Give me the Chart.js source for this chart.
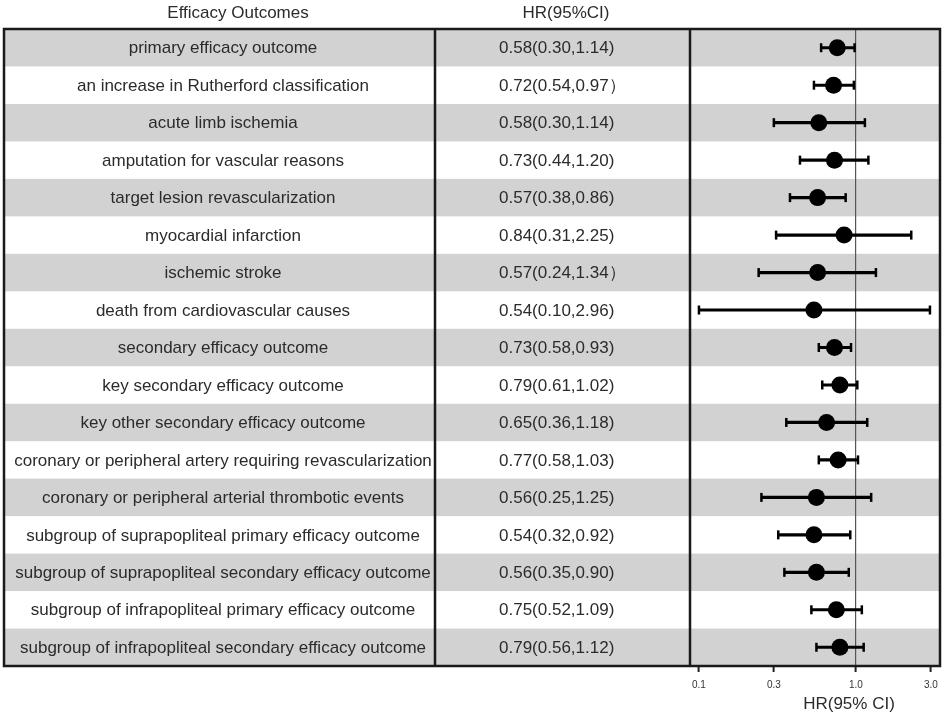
<!DOCTYPE html>
<html>
<head>
<meta charset="utf-8">
<script src="https://cdn.jsdelivr.net/npm/chart.js@4"></script>
<style>
  html, body { margin: 0; padding: 0; background: #fff; }
  canvas { display: block; }
</style>
</head>
<body>
<canvas id="forest" width="945" height="718"></canvas>
<script>
// outcomes and the HR text shown in the middle column
const outcomes = [
  'primary efficacy outcome',
  'an increase in Rutherford classification',
  'acute limb ischemia',
  'amputation for vascular reasons',
  'target lesion revascularization',
  'myocardial infarction',
  'ischemic stroke',
  'death from cardiovascular causes',
  'secondary efficacy outcome',
  'key secondary efficacy outcome',
  'key other secondary efficacy outcome',
  'coronary or peripheral artery requiring revascularization',
  'coronary or peripheral arterial thrombotic events',
  'subgroup of suprapopliteal primary efficacy outcome',
  'subgroup of suprapopliteal secondary efficacy outcome',
  'subgroup of infrapopliteal primary efficacy outcome',
  'subgroup of infrapopliteal secondary efficacy outcome'
];
const hrText = [
  '0.58(0.30,1.14)', '0.72(0.54,0.97\uFF09', '0.58(0.30,1.14)', '0.73(0.44,1.20)',
  '0.57(0.38,0.86)', '0.84(0.31,2.25)', '0.57(0.24,1.34\uFF09', '0.54(0.10,2.96)',
  '0.73(0.58,0.93)', '0.79(0.61,1.02)', '0.65(0.36,1.18)', '0.77(0.58,1.03)',
  '0.56(0.25,1.25)', '0.54(0.32,0.92)', '0.56(0.35,0.90)', '0.75(0.52,1.09)',
  '0.79(0.56,1.12)'
];
// values as plotted (first row is drawn at a different spot than its text)
const hr = [0.76, 0.72, 0.58, 0.73, 0.57, 0.84, 0.57, 0.54, 0.73, 0.79, 0.65, 0.77, 0.56, 0.54, 0.56, 0.75, 0.79];
const lower = [0.60, 0.54, 0.30, 0.44, 0.38, 0.31, 0.24, 0.10, 0.58, 0.61, 0.36, 0.58, 0.25, 0.32, 0.35, 0.52, 0.56];
const upper = [0.98, 0.97, 1.14, 1.20, 0.86, 2.25, 1.34, 2.96, 0.93, 1.02, 1.18, 1.03, 1.25, 0.92, 0.90, 1.09, 1.12];
const tickVals = [0.1, 0.3, 1.0, 3.0];

const FONT = "'Liberation Sans', Arial, sans-serif";
const tableLeft = 4;
const col1 = 435;

const tablePlugin = {
  id: 'table',
  beforeDraw(chart) {
    const ctx = chart.ctx;
    const ys = chart.scales.y;
    const a = chart.chartArea;
    const half = (ys.getPixelForValue(1) - ys.getPixelForValue(0)) / 2;
    ctx.save();
    ctx.fillStyle = '#fff';
    ctx.fillRect(0, 0, chart.width, chart.height);
    ctx.fillStyle = '#d2d2d2';
    outcomes.forEach((o, i) => {
      if (i % 2 === 0) {
        const y = ys.getPixelForValue(i);
        ctx.fillRect(tableLeft, y - half, a.right - tableLeft, half * 2);
      }
    });
    ctx.restore();
  },
  afterDraw(chart) {
    const ctx = chart.ctx;
    const ys = chart.scales.y;
    const a = chart.chartArea;
    ctx.save();
    ctx.fillStyle = '#2b2b2b';
    ctx.textBaseline = 'middle';
    ctx.font = '17px ' + FONT;
    ctx.textAlign = 'center';
    ctx.fillText('Efficacy Outcomes', 238, 13);
    ctx.fillText('HR(95%CI)', 566, 13);
    ctx.fillText('HR(95% CI)', 849, 704);
    outcomes.forEach((o, i) => {
      const y = ys.getPixelForValue(i) + 1;
      ctx.textAlign = 'center';
      ctx.fillText(o, 223, y);
      ctx.textAlign = 'left';
      ctx.fillText(hrText[i], 499, y);
    });
    // table borders
    ctx.strokeStyle = '#1a1a1a';
    ctx.lineWidth = 2.5;
    ctx.strokeRect(tableLeft, a.top, a.right - tableLeft, a.bottom - a.top);
    ctx.beginPath();
    ctx.moveTo(col1, a.top);
    ctx.lineTo(col1, a.bottom);
    ctx.moveTo(a.left, a.top);
    ctx.lineTo(a.left, a.bottom);
    ctx.stroke();
    ctx.restore();
  }
};

const whiskers = outcomes.map((o, i) => [lower[i], upper[i]]);

new Chart(document.getElementById('forest'), {
  type: 'bar',
  data: {
    labels: outcomes,
    datasets: [
      {
        type: 'scatter',
        data: outcomes.map((o, i) => ({ x: hr[i], y: o })),
        pointStyle: 'circle',
        pointRadius: 8.5,
        backgroundColor: '#000',
        borderColor: '#000',
        borderWidth: 0,
        order: 0
      },
      {
        type: 'scatter',
        data: outcomes.map((o, i) => ({ x: lower[i], y: o })),
        pointStyle: 'line',
        rotation: 90,
        pointRadius: 4.5,
        borderColor: '#000',
        borderWidth: 2.5,
        order: 1
      },
      {
        type: 'scatter',
        data: outcomes.map((o, i) => ({ x: upper[i], y: o })),
        pointStyle: 'line',
        rotation: 90,
        pointRadius: 4.5,
        borderColor: '#000',
        borderWidth: 2.5,
        order: 1
      },
      {
        type: 'bar',
        data: whiskers,
        backgroundColor: '#000',
        barThickness: 2.5,
        grouped: false,
        order: 2
      }
    ]
  },
  options: {
    indexAxis: 'y',
    responsive: false,
    animation: false,
    devicePixelRatio: 1,
    layout: { autoPadding: false, padding: { left: 690, right: 5, top: 29, bottom: 20 } },
    plugins: {
      legend: { display: false },
      tooltip: { enabled: false }
    },
    scales: {
      y: {
        type: 'category',
        labels: outcomes,
        offset: true,
        display: false
      },
      x: {
        type: 'logarithmic',
        min: 0.0877,
        max: 3.43,
        border: { display: false },
        afterBuildTicks: (scale) => {
          scale.ticks = tickVals.map(v => ({ value: v }));
        },
        afterFit: (scale) => {
          scale.paddingLeft = 0;
          scale.paddingRight = 0;
        },
        grid: {
          drawOnChartArea: true,
          color: (c) => (c.tick && c.tick.value === 1 ? '#555' : 'rgba(0,0,0,0)'),
          lineWidth: 1.2,
          tickColor: '#222',
          tickWidth: 2,
          tickLength: 6
        },
        ticks: {
          color: '#333',
          font: { size: 10, family: FONT },
          padding: 7,
          maxRotation: 0,
          callback: (v) => Number(v).toFixed(1)
        },
        title: { display: false }
      }
    }
  },
  plugins: [tablePlugin]
});
</script>
</body>
</html>
